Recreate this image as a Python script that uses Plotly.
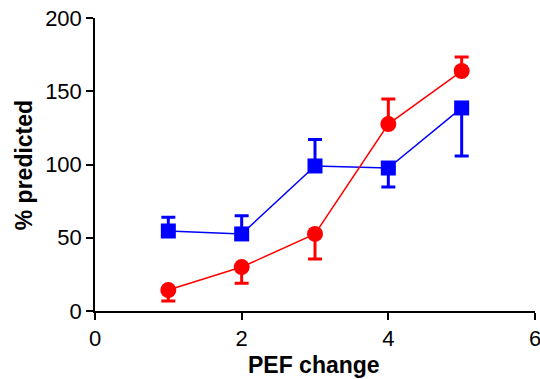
import plotly.graph_objects as go

x_vals = [1, 2, 3, 4, 5]
blue_y = [54.6, 52.6, 99, 97.6, 138.6]
blue_err_plus = [9.4, 12.4, 18, 0, 0]
blue_err_minus = [0, 0, 0, 13, 32.8]
red_y = [14.3, 30, 52.6, 127.6, 163.8]
red_err_plus = [0, 0, 0, 17.1, 9.6]
red_err_minus = [7.5, 11, 17.1, 0, 0]

x_ticks = [0, 2, 4, 6]
y_ticks = [0, 50, 100, 150, 200]

fig = go.Figure()
fig.add_trace(go.Scatter(
    x=x_vals, y=blue_y, mode="lines+markers",
    line=dict(color="#0000ff", width=1.5),
    marker=dict(symbol="square", size=15, color="#0000ff"),
    error_y=dict(type="data", symmetric=False, array=blue_err_plus,
                 arrayminus=blue_err_minus, color="#0000ff", thickness=3, width=7),
    cliponaxis=False, showlegend=False))
fig.add_trace(go.Scatter(
    x=x_vals, y=red_y, mode="lines+markers",
    line=dict(color="#ff0000", width=1.5),
    marker=dict(symbol="circle", size=16, color="#ff0000"),
    error_y=dict(type="data", symmetric=False, array=red_err_plus,
                 arrayminus=red_err_minus, color="#ff0000", thickness=3, width=7),
    cliponaxis=False, showlegend=False))

fig.update_layout(
    width=540, height=379,
    margin=dict(l=95, r=5, t=18, b=68, autoexpand=False),
    paper_bgcolor="white", plot_bgcolor="white",
    font=dict(family="Liberation Sans, Arial, sans-serif", color="black", size=22),
    xaxis=dict(range=[0, 6], tickvals=x_ticks, showgrid=False, zeroline=False,
               showline=True, linecolor="black", linewidth=1.5, automargin=False,
               ticklabeloverflow="allow",
               ticks="outside", ticklen=7, tickwidth=1.5, tickcolor="black"),
    yaxis=dict(range=[0, 200], tickvals=y_ticks, showgrid=False, zeroline=False,
               showline=True, linecolor="black", linewidth=1.5, automargin=False,
               ticklabeloverflow="allow",
               ticks="outside", ticklen=7, tickwidth=1.5, tickcolor="black"),
    annotations=[
        dict(text="<b>PEF change</b>", xref="paper", yref="paper", x=0.498, y=-0.184,
             xanchor="center", yanchor="middle", showarrow=False,
             font=dict(size=23)),
        dict(text="<b>% predicted</b>", xref="paper", yref="paper", x=-0.161, y=0.498,
             xanchor="center", yanchor="middle", showarrow=False, textangle=-90,
             font=dict(size=23)),
    ],
)
fig.write_html("out.html", config={"displayModeBar": False},
               post_script="document.body.style.margin='0';document.body.style.overflow='hidden';")
